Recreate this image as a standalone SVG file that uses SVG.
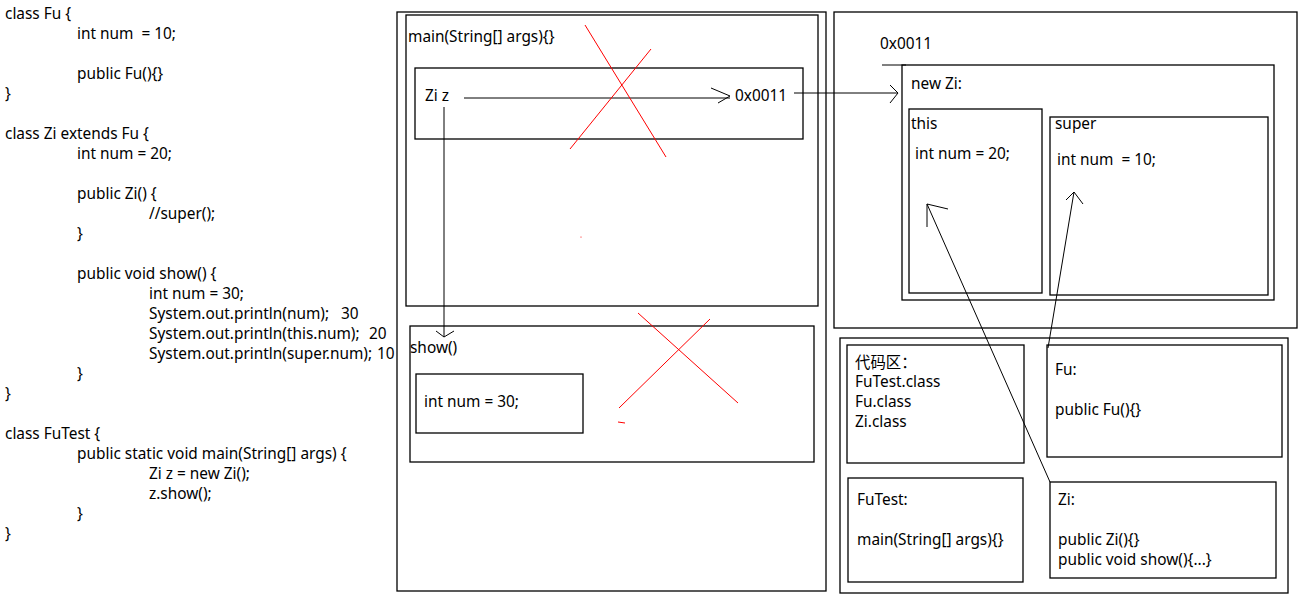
<svg xmlns="http://www.w3.org/2000/svg" width="1298" height="602" viewBox="0 0 1298 602">
<defs>
<style>
text{font-family:"Noto Sans","Noto Sans CJK SC",sans-serif;font-size:15.4px;fill:#000;white-space:pre}
.box{fill:none;stroke:#000;stroke-width:1.3}
.ln{fill:none;stroke:#000;stroke-width:1}
.red{fill:none;stroke:#f00;stroke-width:1}
</style>
</defs>
<rect width="1298" height="602" fill="#fff"/>
<g id="code">
<text x="5" y="19">class Fu {</text>
<text x="77" y="39" xml:space="preserve">int num  = 10;</text>
<text x="77" y="79">public Fu(){}</text>
<text x="5" y="99">}</text>
<text x="5" y="139">class Zi extends Fu {</text>
<text x="77" y="159">int num = 20;</text>
<text x="77" y="199">public Zi() {</text>
<text x="149" y="219">//super();</text>
<text x="77" y="239">}</text>
<text x="77" y="279">public void show() {</text>
<text x="149" y="299">int num = 30;</text>
<text x="149" y="319">System.out.println(num);</text>
<text x="341" y="319">30</text>
<text x="149" y="339">System.out.println(this.num);</text>
<text x="369" y="339">20</text>
<text x="149" y="359">System.out.println(super.num);</text>
<text x="377" y="359">10</text>
<text x="77" y="379">}</text>
<text x="5" y="399">}</text>
<text x="5" y="439">class FuTest {</text>
<text x="77" y="459">public static void main(String[] args) {</text>
<text x="149" y="479">Zi z = new Zi();</text>
<text x="149" y="499">z.show();</text>
<text x="77" y="519">}</text>
<text x="5" y="539">}</text>
</g>
<g id="stack">
<rect class="box" x="397" y="12" width="429" height="579"/>
</g>
<g id="main-frame">
<rect class="box" x="406" y="15" width="412" height="291"/>
<text x="408" y="42">main(String[] args){}</text>
</g>
<g id="zi-z">
<rect class="box" x="415" y="68" width="388" height="71"/>
<text x="425" y="101">Zi z</text>
<text x="735" y="101">0x0011</text>
</g>
<g id="show-frame">
<rect class="box" x="410" y="326" width="404" height="136"/>
<text x="410" y="353">show()</text>
</g>
<g id="show-num">
<rect class="box" x="416" y="374" width="167" height="59"/>
<text x="424" y="407">int num = 30;</text>
</g>
<g id="heap">
<rect class="box" x="834" y="12" width="463" height="316"/>
<text x="880" y="49">0x0011</text>
</g>
<g id="new-zi">
<rect class="box" x="902" y="65" width="372" height="235"/>
<text x="911" y="89">new Zi:</text>
</g>
<g id="this-box">
<rect class="box" x="909" y="109" width="133" height="184"/>
<text x="911" y="129">this</text>
<text x="915" y="159">int num = 20;</text>
</g>
<g id="super-box">
<rect class="box" x="1050" y="117" width="218" height="178"/>
<text x="1055" y="129">super</text>
<text x="1057" y="165" xml:space="preserve">int num  = 10;</text>
</g>
<g id="method-area">
<rect class="box" x="840" y="338" width="448" height="255"/>
</g>
<g id="code-area">
<rect class="box" x="847" y="345" width="177" height="118"/>
<text x="855" y="368">代码区：</text>
<text x="855" y="387">FuTest.class</text>
<text x="855" y="407">Fu.class</text>
<text x="855" y="427">Zi.class</text>
</g>
<g id="fu-class">
<rect class="box" x="1047" y="345" width="235" height="112"/>
<text x="1055" y="375">Fu:</text>
<text x="1055" y="415">public Fu(){}</text>
</g>
<g id="futest-class">
<rect class="box" x="848" y="478" width="175" height="104"/>
<text x="857" y="505">FuTest:</text>
<text x="857" y="545">main(String[] args){}</text>
</g>
<g id="zi-class">
<rect class="box" x="1050" y="482" width="226" height="96"/>
<text x="1058" y="505">Zi:</text>
<text x="1058" y="545">public Zi(){}</text>
<text x="1058" y="565">public void show(){...}</text>
</g>
<g id="connectors">
<path class="ln" d="M464 98H730 M711 88L730 96L718 103"/>
<path class="ln" d="M794 93H898 M890 85L898 93L890 103"/>
<path class="ln" d="M882 65H906"/>
<path class="ln" d="M444 107V337 M436 331L444 337L454 331"/>
<path class="ln" d="M1050 482L927 204 M927 227V204L948 209"/>
<path class="ln" d="M1048 348L1074 192 M1066 200L1074 192L1083 204"/>
</g>
<g id="crosses">
<path class="red" d="M585 25L666 157 M651 49L570 149"/>
<path class="red" d="M638 313L738 403 M710 319L619 408"/>
<path class="red" d="M618 422L625 423"/>
<circle cx="581" cy="237" r="0.6" fill="#f00"/>
</g>
</svg>
